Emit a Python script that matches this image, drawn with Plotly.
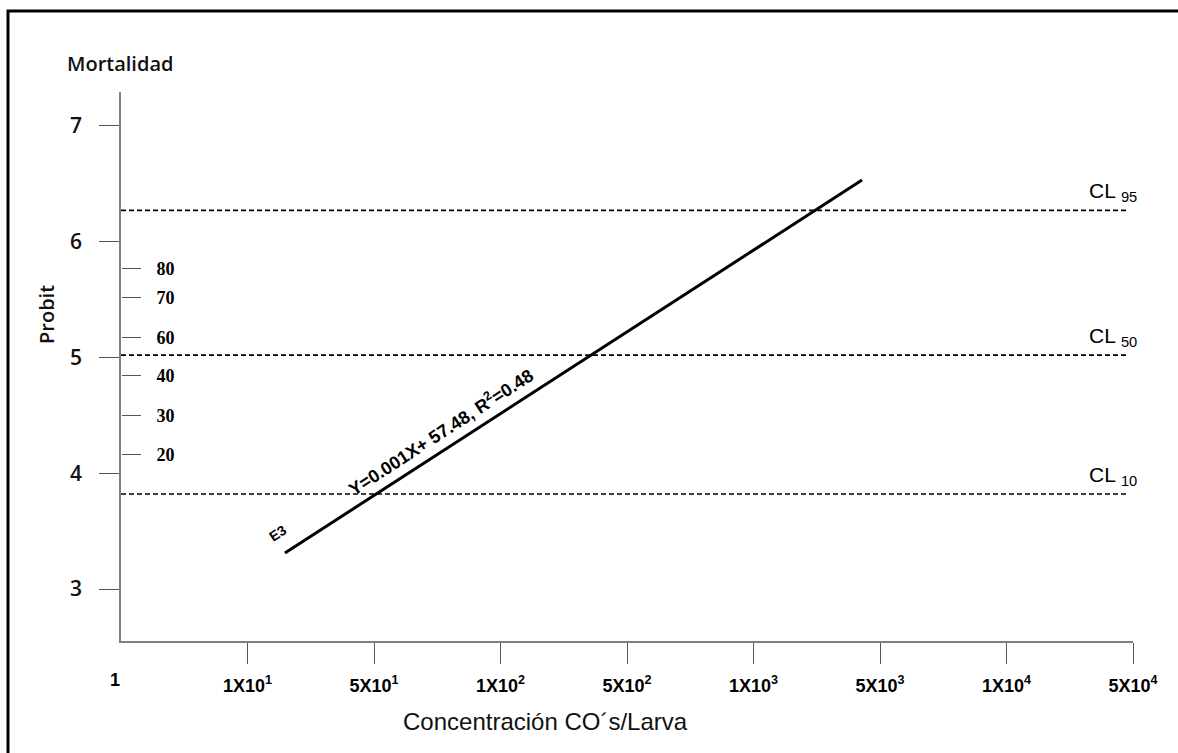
import plotly.graph_objects as go

# ---------------- data ----------------
x_positions = [1, 2, 3, 4, 5, 6, 7, 8]
x_tick_labels = ["1X10<sup>1</sup>", "5X10<sup>1</sup>", "1X10<sup>2</sup>", "5X10<sup>2</sup>",
                 "1X10<sup>3</sup>", "5X10<sup>3</sup>", "1X10<sup>4</sup>", "5X10<sup>4</sup>"]
first_label = "1"

probit_ticks = [3, 4, 5, 6, 7]
mort_pct_labels = ["20", "30", "40", "60", "70", "80"]
mort_pct_probit = [4.16, 4.50, 4.84, 5.17, 5.52, 5.77]

cl_names = ["95", "50", "10"]
cl_probit = [6.27, 5.02, 3.82]
cl_x = [0, 7.96]

fit_x = [1.296, 5.858]
fit_y = [3.311, 6.532]
fit_label = "Y=0.001X+ 57.48, R<sup>2</sup>=0.48"
fit_label_pos = (2.53, 4.356)
series_name = "E3"
series_name_pos = (1.24, 3.484)

# ---------------- layout geometry ----------------
W, H = 1178, 753
L, R, T, B = 121, 45, 92, 112
PW, PH = W - L - R, H - T - B
Y_RANGE = [2.551, 7.292]
X_RANGE = [0, 8]


def px(xp):
    return (xp - L) / PW


def py(yp):
    return (H - B - yp) / PH


fig = go.Figure()

for name, v in zip(cl_names, cl_probit):
    fig.add_trace(go.Scatter(x=cl_x, y=[v, v], mode="lines",
                             line=dict(color="black", width=1.6, dash="5px,3px"),
                             hoverinfo="skip", showlegend=False))

fig.add_trace(go.Scatter(x=fit_x, y=fit_y, mode="lines",
                         line=dict(color="black", width=3),
                         hoverinfo="skip", showlegend=False))

# invisible trace for the secondary (mortality %) axis
fig.add_trace(go.Scatter(x=[None], y=[None], yaxis="y2", mode="markers",
                         showlegend=False, hoverinfo="skip"))

annotations = []
for name, v in zip(cl_names, cl_probit):
    annotations.append(dict(x=7.64, y=v, xref="x", yref="y", xanchor="left", yanchor="bottom",
                            yshift=3, showarrow=False, text="CL <sub>%s</sub>" % name,
                            font=dict(family="Liberation Sans, Arial", size=21, color="black")))

annotations.append(dict(x=fit_label_pos[0], y=fit_label_pos[1], xref="x", yref="y",
                        text="<b>%s</b>" % fit_label, textangle=-33, showarrow=False,
                        font=dict(family="Liberation Sans, Arial", size=18, color="black")))
annotations.append(dict(x=series_name_pos[0], y=series_name_pos[1], xref="x", yref="y",
                        text="<b>%s</b>" % series_name, textangle=-33, showarrow=False,
                        font=dict(family="Liberation Sans, Arial", size=14, color="black")))
annotations.append(dict(x=px(115), y=py(680), xref="paper", yref="paper", text="<b>%s</b>" % first_label,
                        showarrow=False, xanchor="center", yanchor="middle",
                        font=dict(family="Liberation Sans, Arial", size=18, color="black")))
annotations.append(dict(x=px(120), y=py(63), xref="paper", yref="paper", text="Mortalidad",
                        showarrow=False, xanchor="center", yanchor="middle",
                        font=dict(family="Open Sans, Lato", size=20, color="#111", weight=600)))
annotations.append(dict(x=px(46), y=py(315), xref="paper", yref="paper", text="Probit",
                        showarrow=False, textangle=-90, xanchor="center", yanchor="middle",
                        font=dict(family="Open Sans, Lato", size=20, color="#111", weight=600)))
annotations.append(dict(x=px(545), y=py(721), xref="paper", yref="paper",
                        text="Concentración CO´s/Larva",
                        showarrow=False, xanchor="center", yanchor="middle",
                        font=dict(family="Liberation Sans, Arial", size=24, color="#111")))

shapes = [dict(type="path", xref="paper", yref="paper",
               path="M %f %f L %f %f L %f %f" % (px(8), py(760), px(8), py(11), px(1190), py(11)),
               line=dict(color="black", width=3))]

fig.update_layout(
    width=W, height=H,
    margin=dict(l=L, r=R, t=T, b=B, pad=0),
    paper_bgcolor="white", plot_bgcolor="white",
    showlegend=False,
    annotations=annotations,
    shapes=shapes,
    xaxis=dict(range=X_RANGE, showline=True, linecolor="#808080", linewidth=2,
               ticks="outside", ticklen=21, tickcolor="#555", tickwidth=1,
               tickvals=x_positions, ticktext=["<b>%s</b>" % t for t in x_tick_labels],
               tickfont=dict(family="Liberation Sans, Arial", size=18, color="black"),
               ticklabelstandoff=6,
               showgrid=False, zeroline=False, fixedrange=True),
    yaxis=dict(range=Y_RANGE, showline=True, linecolor="#808080", linewidth=1.5,
               ticks="outside", ticklen=20, tickcolor="#555", tickwidth=1,
               tickvals=probit_ticks, ticktext=[str(t) for t in probit_ticks],
               tickfont=dict(family="Open Sans, Lato", size=21, color="#111", weight=600),
               ticklabelstandoff=13,
               showgrid=False, zeroline=False, fixedrange=True),
    yaxis2=dict(range=Y_RANGE, overlaying="y", anchor="free", position=0, side="right",
                showline=False, ticks="outside", ticklen=19, tickcolor="#555", tickwidth=1,
                tickvals=mort_pct_probit, ticktext=["<b>%s</b>" % t for t in mort_pct_labels],
                tickfont=dict(family="Liberation Serif, Times New Roman", size=18, color="black"),
                ticklabelstandoff=12,
                showgrid=False, zeroline=False, fixedrange=True),
)

fig.write_html("out.html", config={"displayModeBar": False},
               post_script="document.body.style.margin='0px';document.body.style.overflow='hidden';")
